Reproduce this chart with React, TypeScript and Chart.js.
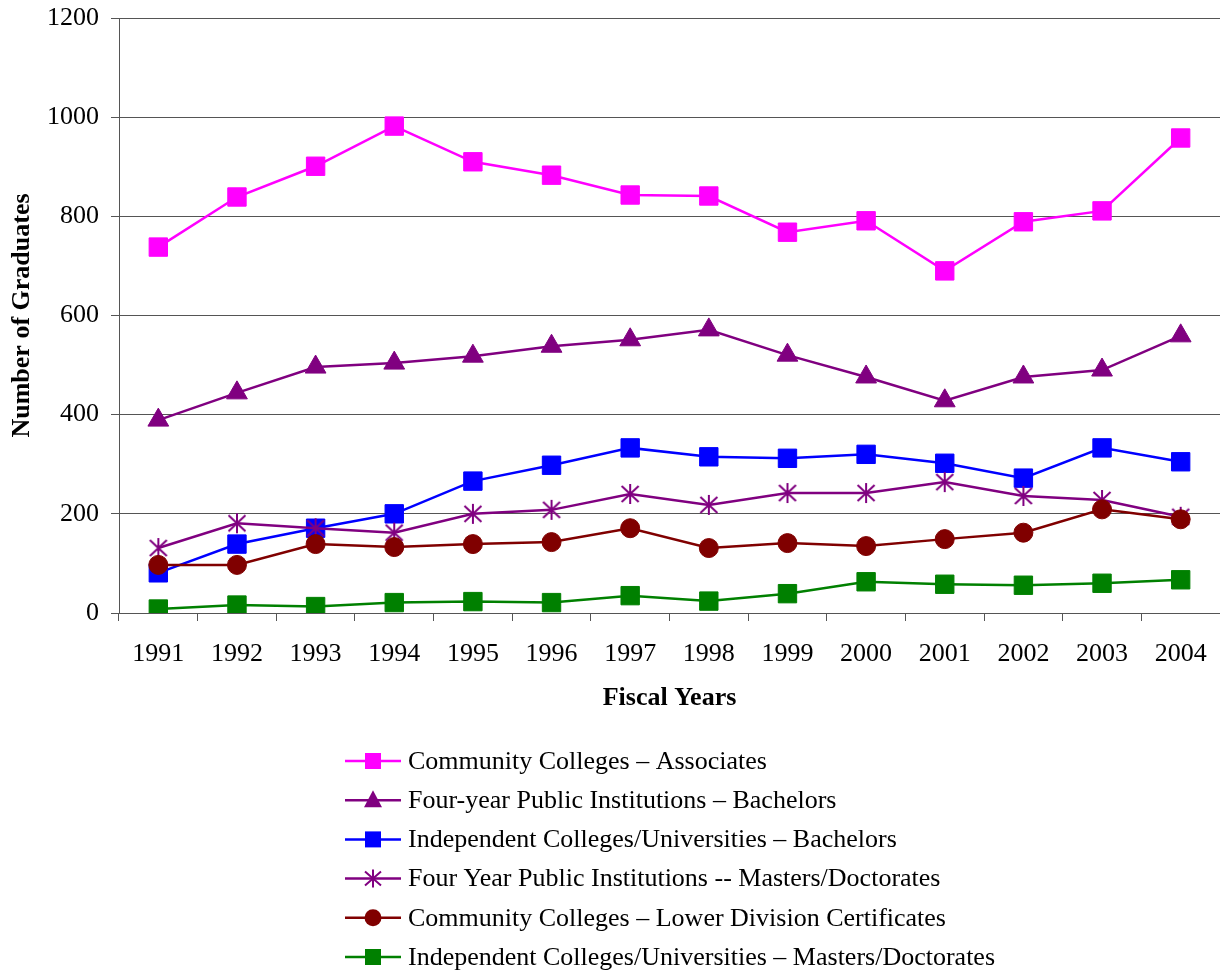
import React, { useEffect, useRef } from "react";
import { Chart, registerables } from "chart.js";

Chart.register(...registerables);

const years = ["1991", "1992", "1993", "1994", "1995", "1996", "1997", "1998", "1999", "2000", "2001", "2002", "2003", "2004"];
const yTicks = [0, 200, 400, 600, 800, 1000, 1200];

const ccAssociates = [738, 839, 901, 982, 910, 883, 843, 841, 768, 791, 690, 789, 811, 958];
const fourYearBachelors = [389, 444, 496, 504, 518, 538, 551, 571, 520, 476, 428, 476, 490, 559];
const indepBachelors = [81, 139, 171, 200, 266, 298, 333, 315, 312, 320, 302, 272, 333, 305];
const fourYearMasters = [131, 181, 171, 162, 200, 208, 240, 218, 242, 242, 264, 236, 228, 194];
const ccCertificates = [97, 97, 139, 133, 139, 143, 171, 131, 141, 135, 149, 162, 209, 189];
const indepMasters = [8, 16, 13, 21, 23, 21, 35, 24, 39, 63, 58, 56, 60, 67];

const seriesLabels = [
  "Community Colleges \u2013 Associates",
  "Four-year Public Institutions \u2013 Bachelors",
  "Independent Colleges/Universities \u2013 Bachelors",
  "Four Year Public Institutions -- Masters/Doctorates",
  "Community Colleges \u2013 Lower Division Certificates",
  "Independent Colleges/Universities \u2013 Masters/Doctorates",
];
const seriesValues = [ccAssociates, fourYearBachelors, indepBachelors, fourYearMasters, ccCertificates, indepMasters];
const seriesColors = ["#FF00FF", "#800080", "#0000FF", "#800080", "#800000", "#008000"];
const seriesMarkers = ["rect", "triangle", "rect", "asterisk", "circle", "rect"];

const FONT = '"Liberation Serif", "Times New Roman", serif';

function makeAsterisk(color: string, w: number, h: number) {
  const c = document.createElement("canvas");
  c.width = w;
  c.height = h;
  const ctx = c.getContext("2d")!;
  ctx.strokeStyle = color;
  ctx.lineWidth = 2;
  ctx.lineCap = "butt";
  ctx.beginPath();
  ctx.moveTo(w / 2, 1);
  ctx.lineTo(w / 2, h - 1);
  ctx.moveTo(1.5, 3);
  ctx.lineTo(w - 1.5, h - 3);
  ctx.moveTo(w - 1.5, 3);
  ctx.lineTo(1.5, h - 3);
  ctx.stroke();
  return c;
}

function drawMarker(ctx: CanvasRenderingContext2D, kind: string, x: number, y: number, color: string) {
  ctx.save();
  ctx.fillStyle = color;
  ctx.strokeStyle = color;
  if (kind === "rect") {
    ctx.fillRect(x - 8, y - 8, 16, 16);
  } else if (kind === "triangle") {
    ctx.beginPath();
    ctx.moveTo(x, y - 10);
    ctx.lineTo(x + 9, y + 7);
    ctx.lineTo(x - 9, y + 7);
    ctx.closePath();
    ctx.fill();
  } else if (kind === "circle") {
    ctx.beginPath();
    ctx.arc(x, y, 8.5, 0, Math.PI * 2);
    ctx.fill();
  } else if (kind === "asterisk") {
    ctx.lineWidth = 2;
    ctx.beginPath();
    ctx.moveTo(x, y - 9);
    ctx.lineTo(x, y + 9);
    ctx.moveTo(x - 8, y - 7);
    ctx.lineTo(x + 8, y + 7);
    ctx.moveTo(x + 8, y - 7);
    ctx.lineTo(x - 8, y + 7);
    ctx.stroke();
  }
  ctx.restore();
}

const legendPlugin = {
  id: "stackedLegend",
  afterDraw(chart: any) {
    const ctx: CanvasRenderingContext2D = chart.ctx;
    const top = 761;
    const gap = 39.2;
    ctx.save();
    seriesLabels.forEach((label, i) => {
      const y = top + i * gap;
      const color = seriesColors[i];
      ctx.strokeStyle = color;
      ctx.lineWidth = 2.5;
      ctx.beginPath();
      ctx.moveTo(345, y);
      ctx.lineTo(401, y);
      ctx.stroke();
      drawMarker(ctx, seriesMarkers[i], 373, y, color);
      ctx.fillStyle = "#000";
      ctx.font = `26px ${FONT}`;
      ctx.textAlign = "left";
      ctx.textBaseline = "middle";
      ctx.fillText(label, 408, y + 1);
    });
    ctx.restore();
  },
};

export default function App() {
  const ref = useRef<HTMLCanvasElement | null>(null);

  useEffect(() => {
    document.body.style.margin = "0";
    const canvas = ref.current;
    if (!canvas) return;
    const asterisk = makeAsterisk("#800080", 20, 22);
    const radii: Record<string, number> = { rect: 13, triangle: 12, circle: 9.5, asterisk: 10 };

    const datasets = seriesLabels.map((label, i) => {
      const kind = seriesMarkers[i];
      return {
        label,
        data: seriesValues[i],
        borderColor: seriesColors[i],
        backgroundColor: seriesColors[i],
        borderWidth: 2.5,
        pointStyle: kind === "asterisk" ? (asterisk as any) : kind,
        pointRadius: radii[kind],
        pointHoverRadius: radii[kind],
        pointBackgroundColor: seriesColors[i],
        pointBorderColor: seriesColors[i],
        pointBorderWidth: kind === "asterisk" ? 0 : 1,
        fill: false,
        tension: 0,
        order: seriesLabels.length - i,
      };
    });

    const chart = new Chart(canvas, {
      type: "line",
      data: { labels: years, datasets },
      options: {
        animation: false,
        responsive: false,
        maintainAspectRatio: false,
        layout: { autoPadding: false, padding: { left: 0, right: 0, top: 18, bottom: 258 } },
        plugins: {
          legend: { display: false },
          tooltip: { enabled: false },
        },
        scales: {
          x: {
            type: "category",
            offset: true,
            grid: {
              offset: true,
              drawOnChartArea: false,
              drawTicks: true,
              tickLength: 8,
              color: "#555",
            },
            border: { display: true, color: "#555", width: 1 },
            ticks: {
              color: "#000",
              font: { family: FONT, size: 26 },
              padding: 18,
              maxRotation: 0,
              autoSkip: false,
            },
            title: {
              display: true,
              text: "Fiscal Years",
              color: "#000",
              font: { family: FONT, size: 26, weight: "bold" },
              padding: { top: 0, bottom: 1 },
            },
            afterFit: (scale: any) => {
              scale.height = 102;
              scale.paddingLeft = 0;
              scale.paddingRight = 0;
            },
          },
          y: {
            min: 0,
            max: 1200,
            afterBuildTicks: (scale: any) => {
              scale.ticks = yTicks.map((v) => ({ value: v }));
            },
            grid: {
              color: "#555",
              lineWidth: 1,
              drawTicks: true,
              tickLength: 8,
            },
            border: { display: true, color: "#555", width: 1 },
            ticks: {
              color: "#000",
              font: { family: FONT, size: 26 },
              padding: 12,
              callback: (v: any) => String(v),
            },
            title: {
              display: true,
              text: "Number of Graduates",
              color: "#000",
              font: { family: FONT, size: 26, weight: "bold" },
              padding: { top: 7, bottom: 0 },
            },
            afterFit: (scale: any) => {
              scale.width = 119;
              scale.paddingTop = 0;
              scale.paddingBottom = 0;
            },
          },
        },
      },
      plugins: [legendPlugin],
    });

    return () => {
      chart.destroy();
    };
  }, []);

  return (
    <div style={{ width: 1220, height: 973, position: "relative", background: "#fff" }}>
      <canvas ref={ref} width={1220} height={973} style={{ display: "block", width: 1220, height: 973 }} />
    </div>
  );
}
